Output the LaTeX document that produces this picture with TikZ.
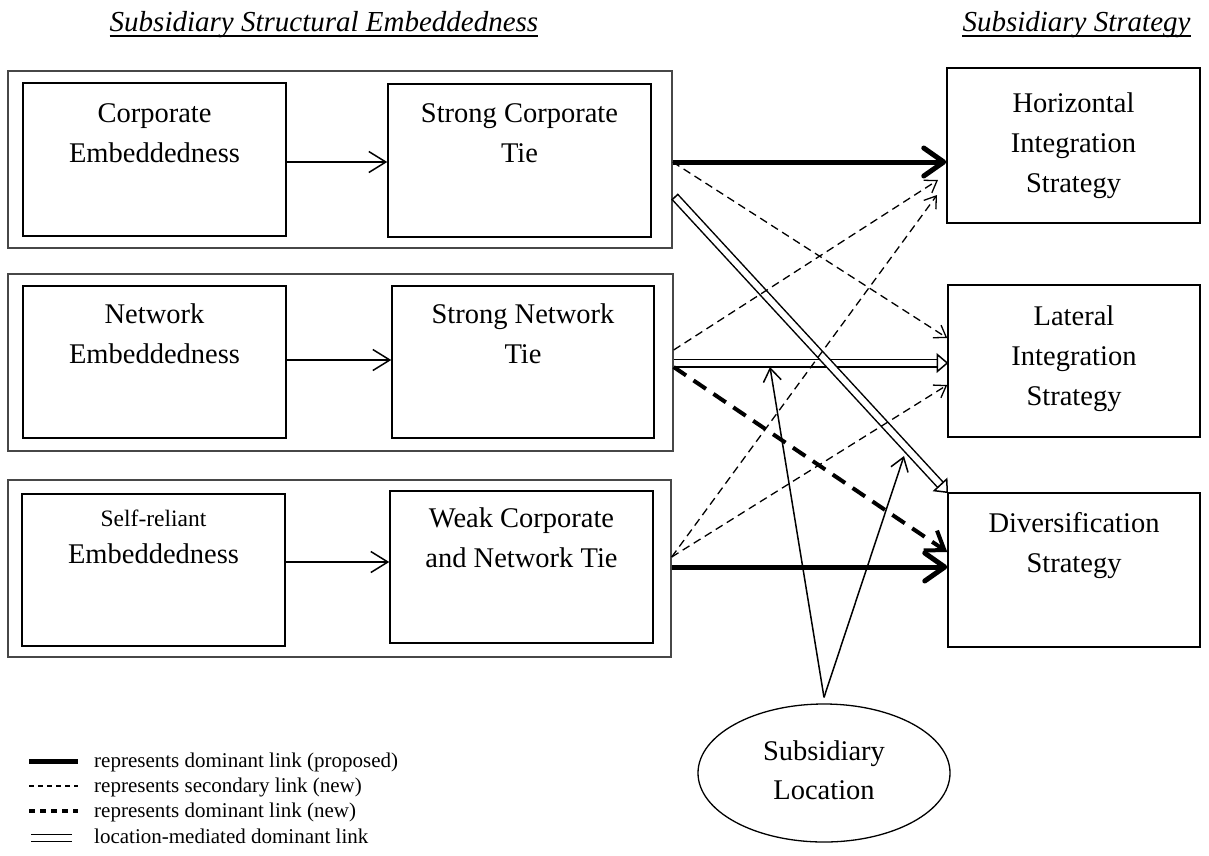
\documentclass[tikz,border=0pt]{standalone}
\usepackage{fontspec}
\setmainfont{Liberation Serif}
\usetikzlibrary{arrows.meta,shapes.geometric,calc}
\begin{document}
\begin{tikzpicture}[x=1pt,y=-1pt,
  frm/.style={draw=black!72, line width=1.3pt, inner sep=0pt, rectangle},
  bx/.style={draw=black, line width=1.5pt, inner sep=0pt, rectangle},
  txt/.style={anchor=base, inner sep=0pt, font=\fontsize{28.5}{34}\selectfont},
  smalltxt/.style={anchor=base, inner sep=0pt, font=\fontsize{23.5}{28}\selectfont},
  legtxt/.style={anchor=base west, inner sep=0pt, font=\fontsize{21}{25}\selectfont},
  ttl/.style={anchor=base, inner sep=0pt, font=\fontsize{29}{34}\selectfont\itshape},
  link/.style={line width=1.5pt, -{Straight Barb[length=17pt,width=21pt]}},
  dom/.style={line width=5pt, -{Straight Barb[length=20pt,width=28pt,round]}},
  sec/.style={line width=1.3pt, dash pattern=on 8pt off 5pt, -{Straight Barb[length=11pt,width=15pt]}},
  domnew/.style={line width=4pt, dash pattern=on 15pt off 9pt, -{Straight Barb[length=17pt,width=24pt]}},
  hollow/.style={line width=1.5pt, double=white, double distance=6pt},
  hhead/.style={line width=1.5pt, fill=white, line join=miter},
  loc/.style={line width=1.5pt, -{Straight Barb[length=13pt,width=18pt]}}]
\useasboundingbox (0,0) rectangle (1209,855);

% titles
\node[ttl] (t1) at (324,31) {Subsidiary Structural Embeddedness};
\node[ttl] (t2) at (1076.5,31) {Subsidiary Strategy};
\draw[line width=2.2pt] ([yshift=-5pt]t1.base west) -- ([yshift=-5pt]t1.base east);
\draw[line width=2.2pt] ([yshift=-5pt]t2.base west) -- ([yshift=-5pt]t2.base east);

% frames
\node[frm, minimum width=664pt, minimum height=177pt] (f1) at (340,159.5) {};
\node[frm, minimum width=665pt, minimum height=177pt] (f2) at (340.5,362.5) {};
\node[frm, minimum width=663pt, minimum height=177pt] (f3) at (339.5,568.5) {};

% inner boxes
\node[bx, minimum width=263pt, minimum height=153pt] (ce) at (154.5,159.5) {};
\node[bx, minimum width=263pt, minimum height=153pt] (sct) at (519.5,160.5) {};
\node[bx, minimum width=263pt, minimum height=152pt] (ne) at (154.5,362) {};
\node[bx, minimum width=262pt, minimum height=152pt] (snt) at (523,362) {};
\node[bx, minimum width=263pt, minimum height=152pt] (sre) at (153.5,570) {};
\node[bx, minimum width=263pt, minimum height=152pt] (wcnt) at (521.5,567) {};

% strategy boxes
\node[bx, minimum width=253pt, minimum height=155pt] (his) at (1073.5,145.5) {};
\node[bx, minimum width=252pt, minimum height=152pt] (lis) at (1074,361) {};
\node[bx, minimum width=252pt, minimum height=154pt] (ds) at (1074,570) {};

% location
\node[draw, line width=1.3pt, ellipse, minimum width=252pt, minimum height=138pt, inner sep=0pt] (loc) at (824,773) {};

% texts
\node[txt] (ce1) at (154.5,122) {Corporate};
\node[txt] (ce2) at (154.5,162) {Embeddedness};
\node[txt] (sct1) at (519.5,122) {Strong Corporate};
\node[txt] (sct2) at (519.5,162) {Tie};
\node[txt] (ne1) at (154.5,323) {Network};
\node[txt] (ne2) at (154.5,363) {Embeddedness};
\node[txt] (snt1) at (523,323) {Strong Network};
\node[txt] (snt2) at (523,363) {Tie};
\node[smalltxt] (sre1) at (153.5,526) {Self-reliant};
\node[txt] (sre2) at (153.5,563) {Embeddedness};
\node[txt] (wc1) at (521.5,527) {Weak Corporate};
\node[txt] (wc2) at (521.5,567) {and Network Tie};
\node[txt] (his1) at (1073.5,112) {Horizontal};
\node[txt] (his2) at (1073.5,152) {Integration};
\node[txt] (his3) at (1073.5,192) {Strategy};
\node[txt] (lis1) at (1074,325) {Lateral};
\node[txt] (lis2) at (1074,365) {Integration};
\node[txt] (lis3) at (1074,405) {Strategy};
\node[txt] (ds1) at (1074,532) {Diversification};
\node[txt] (ds2) at (1074,572) {Strategy};
\node[txt] (loc1) at (824,760) {Subsidiary};
\node[txt] (loc2) at (824,799) {Location};

% hollow (location-mediated) links
\coordinate (h1s) at (f2.east |- 0,363);
\coordinate (h1e) at (lis.west |- 0,363);
\coordinate (hb1) at ($(h1e)!10pt!(h1s)$);
\draw[hollow] (h1s) -- (hb1);
\draw[hhead] ($(hb1)!8.5pt!90:(h1e)$) -- (h1e) -- ($(hb1)!8.5pt!-90:(h1e)$) -- cycle;

\coordinate (h2s) at (675,197);
\coordinate (h2e) at (ds.north west);
\coordinate (hb2) at ($(h2e)!10pt!(h2s)$);
\draw[hollow] (h2s) -- (hb2);
\draw[line width=1.5pt] ($(h2s)!4.5pt!90:(h2e)$) -- ($(h2s)!4.5pt!-90:(h2e)$);
\draw[hhead] ($(hb2)!8.5pt!90:(h2e)$) -- (h2e) -- ($(hb2)!8.5pt!-90:(h2e)$) -- cycle;

% inner links
\draw[link] (ce.east |- 0,162) -- (sct.west |- 0,162);
\draw[link] (ne.east |- 0,360) -- (snt.west |- 0,360);
\draw[link] (sre.east |- 0,562) -- (wcnt.west |- 0,562);

% dominant proposed
\draw[dom] (f1.east |- 0,162) -- (his.west |- 0,162);
\draw[dom] (f3.east |- 0,567) -- (ds.west |- 0,567);

% dominant new
\draw[domnew] (f2.east |- 0,367) -- (ds.west |- 0,552);

% secondary
\draw[sec] (f1.east |- 0,162) -- (lis.west |- 0,338);
\draw[sec] (f2.east |- 0,350) -- (938,180);
\draw[sec] (f3.east |- 0,557) -- (937,195);
\draw[sec] (f3.east |- 0,557) -- (lis.west |- 0,385);

% location links
\coordinate (apex) at ([yshift=6pt]loc.north);
\coordinate (m1) at (770,367);
\coordinate (m2) at (904,456);
\draw[loc] (apex) -- (m1);
\draw[loc] (apex) -- (m2);

% legend
\coordinate (l1a) at (29,761); \coordinate (l1b) at (78,761);
\coordinate (l2a) at (29,786); \coordinate (l2b) at (78,786);
\coordinate (l3a) at (29,811); \coordinate (l3b) at (78,811);
\coordinate (l4a) at (31,838); \coordinate (l4b) at (72,838);
\draw[line width=5pt] (l1a) -- (l1b);
\draw[line width=1.2pt, dash pattern=on 5pt off 4pt] (l2a) -- (l2b);
\draw[line width=4.5pt, dash pattern=on 6pt off 5pt] (l3a) -- (l3b);
\draw[line width=1.3pt, double=white, double distance=6pt] (l4a) -- (l4b);
\node[legtxt] (lg1) at (94,767) {represents dominant link (proposed)};
\node[legtxt] (lg2) at (94,792) {represents secondary link (new)};
\node[legtxt] (lg3) at (94,817) {represents dominant link (new)};
\node[legtxt] (lg4) at (94,843) {location-mediated dominant link};
\end{tikzpicture}
\end{document}
